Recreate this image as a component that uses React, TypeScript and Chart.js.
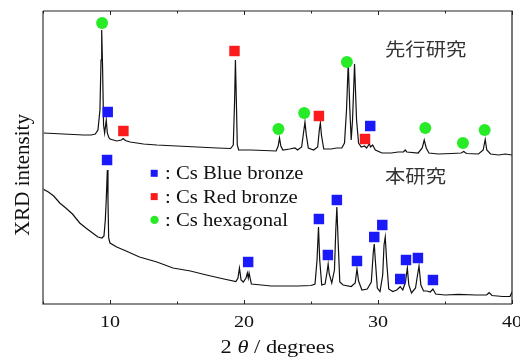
import React, { useEffect, useRef } from "react";
import { Chart, registerables } from "chart.js";
Chart.register(...registerables);

// 先行研究 (upper trace): 2θ (deg) and intensity (a.u.)
const prevX = [5.0, 5.8, 6.5, 7.3, 8.0, 8.6, 8.9, 9.1, 9.25, 9.33, 9.38, 9.45, 9.52, 9.6, 9.72, 9.8, 9.9, 10.0, 10.5, 10.85, 10.98, 11.15, 11.5, 12.5, 13.5, 15.0, 16.5, 18.0, 19.0, 19.2, 19.3, 19.36, 19.42, 19.5, 19.6, 20.5, 21.5, 22.4, 22.55, 22.65, 22.75, 22.9, 23.4, 23.8, 24.0, 24.3, 24.45, 24.55, 24.65, 24.8, 25.2, 25.5, 25.62, 25.7, 25.78, 25.95, 26.5, 26.9, 27.3, 27.5, 27.65, 27.78, 27.9, 28.0, 28.1, 28.25, 28.4, 28.55, 28.75, 29.0, 29.15, 29.35, 29.45, 29.6, 29.8, 30.3, 31.0, 31.5, 31.9, 32.03, 32.15, 33.0, 33.3, 33.45, 33.6, 33.8, 34.5, 35.5, 36.2, 36.4, 36.6, 37.5, 37.85, 38.0, 38.12, 38.4, 39.0, 39.5, 40.0];
const prevY = [171, 170.5, 170, 169.5, 169, 169, 170, 174, 194, 244, 274, 234, 179, 171, 184, 171, 167, 165, 163, 164, 165.5, 163.5, 162, 160, 159, 158, 157, 156, 155.5, 159, 204, 244, 209, 159, 154, 154, 153.5, 153, 158, 166, 158, 154, 155, 156, 154, 157, 172, 182, 169, 156, 154, 157, 174, 181, 169, 155, 155, 156, 156, 161, 194, 241, 194, 164, 184, 240, 184, 161, 157, 158, 156, 160, 157, 159, 154, 151, 151, 152, 152, 154, 152, 151, 156, 164, 156, 151, 150, 150.5, 151, 152.5, 150.5, 150, 154, 164.5, 154, 150, 149, 150, 149];

// 本研究 (lower trace)
const thisX = [5.0, 5.4, 5.8, 6.25, 6.7, 7.2, 7.74, 8.2, 8.7, 9.1, 9.4, 9.55, 9.65, 9.72, 9.8, 9.85, 9.9, 10.0, 10.5, 11.2, 12.2, 13.5, 14.7, 16.0, 17.2, 18.5, 19.4, 19.55, 19.66, 19.78, 19.95, 20.15, 20.25, 20.32, 20.38, 20.55, 21.3, 22.0, 23.0, 24.0, 25.0, 25.3, 25.45, 25.56, 25.65, 25.8, 26.05, 26.2, 26.28, 26.36, 26.55, 26.75, 26.85, 26.93, 27.02, 27.15, 27.4, 28.0, 28.3, 28.43, 28.55, 28.8, 29.2, 29.5, 29.65, 29.72, 29.8, 29.95, 30.15, 30.35, 30.45, 30.54, 30.65, 30.8, 31.1, 31.4, 31.66, 31.85, 32.05, 32.19, 32.3, 32.5, 32.8, 32.95, 33.06, 33.2, 33.4, 33.65, 33.9, 34.1, 34.3, 35.0, 36.0, 37.3, 38.1, 38.3, 38.5, 39.3, 39.85, 40.0];
const thisY = [115, 112, 108, 101, 96, 90, 81, 76, 71, 67, 66, 68, 84, 104, 134, 104, 66, 61, 57, 53, 47, 42, 36, 33, 29, 25, 22.5, 26, 36, 24, 22, 26, 31, 26, 31, 20, 19, 18, 18, 18, 18.5, 20, 44, 77, 44, 19, 20, 32, 40, 30, 21, 34, 74, 97, 64, 22, 19, 17.5, 21, 35, 23, 14, 15, 22, 52, 60, 44, 16, 12.5, 29, 59, 67, 42, 15, 12.5, 14, 17.3, 14, 22, 36, 19, 11, 16, 29, 38, 19, 13, 13, 12, 15, 10, 9, 9.7, 9, 9, 11.3, 8.5, 7.5, 7.5, 12];

// Phase markers
const blueX = [9.83, 29.42, 9.78, 20.31, 25.59, 26.26, 26.93, 28.43, 29.72, 30.32, 31.66, 32.09, 32.98, 34.1];
const blueY = [192, 178, 144, 42, 85, 49, 104, 43, 67, 79, 25, 44, 46, 24];
const redX = [11.0, 19.29, 25.59, 29.03];
const redY = [173, 253, 188, 165];
const greenX = [9.41, 22.57, 24.49, 27.68, 33.53, 36.34, 37.96];
const greenY = [281, 175, 191, 242, 176, 161, 174];

const xLabelTicks = [10, 20, 30, 40];
const xAllTicks = [5, 10, 15, 20, 25, 30, 35, 40];
const legendLabels = [": Cs Blue bronze", ": Cs Red bronze", ": Cs hexagonal"];
const prevLabel = "先行研究";
const thisLabel = "本研究";
const xTitleParts = ["2 ", "θ", " / degrees"];
const yTitle = "XRD intensity";

const BLUE = "rgb(25,25,250)";
const RED = "rgb(250,28,28)";
const GREEN = "rgb(40,235,40)";
const SERIF = "'Liberation Serif', 'Times New Roman', serif";
const CJK = "'Noto Sans CJK JP', 'Noto Sans CJK SC', sans-serif";

export default function App() {
  const ref = useRef<HTMLCanvasElement>(null);
  useEffect(() => {
    const canvas = ref.current!;
    const pts = (xs: number[], ys: number[]) => xs.map((x, i) => ({ x, y: ys[i] }));

    // draw text horizontally stretched (scanned figure has wide glyphs)
    const wideText = (ctx: any, text: string, x: number, y: number, sx: number, align: string) => {
      ctx.save();
      ctx.textAlign = "left";
      const w = ctx.measureText(text).width * sx;
      let left = x;
      if (align === "center") left = x - w / 2;
      ctx.translate(left, y);
      ctx.scale(sx, 1);
      ctx.fillText(text, 0, 0);
      ctx.restore();
      return w;
    };

    const decor = {
      id: "decor",
      afterDraw(chart: any) {
        const { ctx, chartArea: a, scales } = chart;
        const xs = scales.x;
        ctx.save();
        // frame
        ctx.strokeStyle = "#666";
        ctx.lineWidth = 1.6;
        ctx.beginPath();
        ctx.moveTo(a.left, a.top);
        ctx.lineTo(a.left, a.bottom);
        ctx.lineTo(a.right, a.bottom);
        ctx.stroke();
        ctx.strokeStyle = "#222";
        ctx.lineWidth = 1.2;
        ctx.beginPath();
        ctx.moveTo(a.left, a.top);
        ctx.lineTo(a.right, a.top);
        ctx.lineTo(a.right, a.bottom);
        ctx.stroke();
        // inward ticks top & bottom
        ctx.strokeStyle = "#222";
        ctx.lineWidth = 1;
        xAllTicks.forEach((v) => {
          const px = Math.round(xs.getPixelForValue(v)) + 0.5;
          const len = v % 10 === 0 ? 4 : 2.5;
          ctx.beginPath();
          ctx.moveTo(px, a.bottom);
          ctx.lineTo(px, a.bottom - len);
          ctx.moveTo(px, a.top);
          ctx.lineTo(px, a.top + len);
          ctx.stroke();
        });
        // x tick labels
        ctx.fillStyle = "#111";
        ctx.textBaseline = "alphabetic";
        ctx.font = `17px ${SERIF}`;
        xLabelTicks.forEach((v) => {
          wideText(ctx, String(v), xs.getPixelForValue(v), a.bottom + 23, 1.18, "center");
        });
        // x title with italic theta
        const fN = `19.5px ${SERIF}`;
        const fI = `italic 19.5px ${SERIF}`;
        const sx = 1.15;
        let total = 0;
        xTitleParts.forEach((p, i) => {
          ctx.font = i === 1 ? fI : fN;
          total += ctx.measureText(p).width * sx;
        });
        let cx = (a.left + a.right) / 2 - total / 2;
        xTitleParts.forEach((p, i) => {
          ctx.font = i === 1 ? fI : fN;
          cx += wideText(ctx, p, cx, 353, sx, "left");
        });
        // y title
        ctx.font = `21px ${SERIF}`;
        ctx.textAlign = "center";
        ctx.textBaseline = "middle";
        ctx.translate(23, 175);
        ctx.rotate(-Math.PI / 2);
        ctx.fillText(yTitle, 0, 0);
        ctx.restore();

        ctx.save();
        // sample labels
        ctx.fillStyle = "#333";
        ctx.font = `18.5px ${CJK}`;
        ctx.textBaseline = "middle";
        wideText(ctx, prevLabel, 385, 48.5, 1.1, "left");
        wideText(ctx, thisLabel, 385, 176, 1.1, "left");
        // legend
        const colors = [BLUE, RED, GREEN];
        ctx.font = `18px ${SERIF}`;
        ctx.textBaseline = "alphabetic";
        legendLabels.forEach((t, i) => {
          const cy = 173.3 + i * 23.3;
          ctx.fillStyle = colors[i];
          if (i < 2) {
            ctx.fillRect(150.7, cy - 3.5, 7, 7);
          } else {
            ctx.beginPath();
            ctx.arc(154.5, cy, 4.2, 0, Math.PI * 2);
            ctx.fill();
          }
          ctx.fillStyle = "#111";
          wideText(ctx, t, 165, cy + 6, 1.15, "left");
        });
        ctx.restore();
      },
    };

    const lineDs = (xs: number[], ys: number[]) => ({
      data: pts(xs, ys),
      showLine: true,
      borderColor: "#111",
      borderWidth: 1.2,
      pointRadius: 0,
      tension: 0,
      fill: false,
    });
    const markDs = (xs: number[], ys: number[], color: string, style: string, r: number) => ({
      data: pts(xs, ys),
      showLine: false,
      pointStyle: style,
      pointRadius: r,
      backgroundColor: color,
      borderColor: color,
      borderWidth: 0,
    });

    const chart = new Chart(canvas, {
      type: "scatter",
      data: {
        datasets: [
          markDs(blueX, blueY, BLUE, "rect", 7.4) as any,
          markDs(redX, redY, RED, "rect", 7.4) as any,
          markDs(greenX, greenY, GREEN, "circle", 6) as any,
          lineDs(prevX, prevY) as any,
          lineDs(thisX, thisY) as any,
        ],
      },
      options: {
        responsive: false,
        animation: false,
        layout: { padding: { left: 0, right: 8, top: 11, bottom: 0 } },
        plugins: { legend: { display: false }, tooltip: { enabled: false } },
        scales: {
          x: {
            type: "linear",
            min: 5,
            max: 40,
            ticks: { display: false },
            afterFit: (s: any) => {
              s.height = 58;
            },
            grid: { display: false, drawTicks: false },
            border: { display: false },
          },
          y: {
            type: "linear",
            min: 0,
            max: 293,
            ticks: { display: false },
            grid: { display: false, drawTicks: false },
            border: { display: false },
            afterFit: (s: any) => {
              s.width = 43;
            },
          },
        },
      },
      plugins: [decor],
    } as any);
    return () => chart.destroy();
  }, []);
  return (
    <div style={{ position: "absolute", left: 0, top: 0, width: 520, height: 362, background: "#fff" }}>
      <canvas ref={ref} width={520} height={362} style={{ display: "block" }} />
    </div>
  );
}
